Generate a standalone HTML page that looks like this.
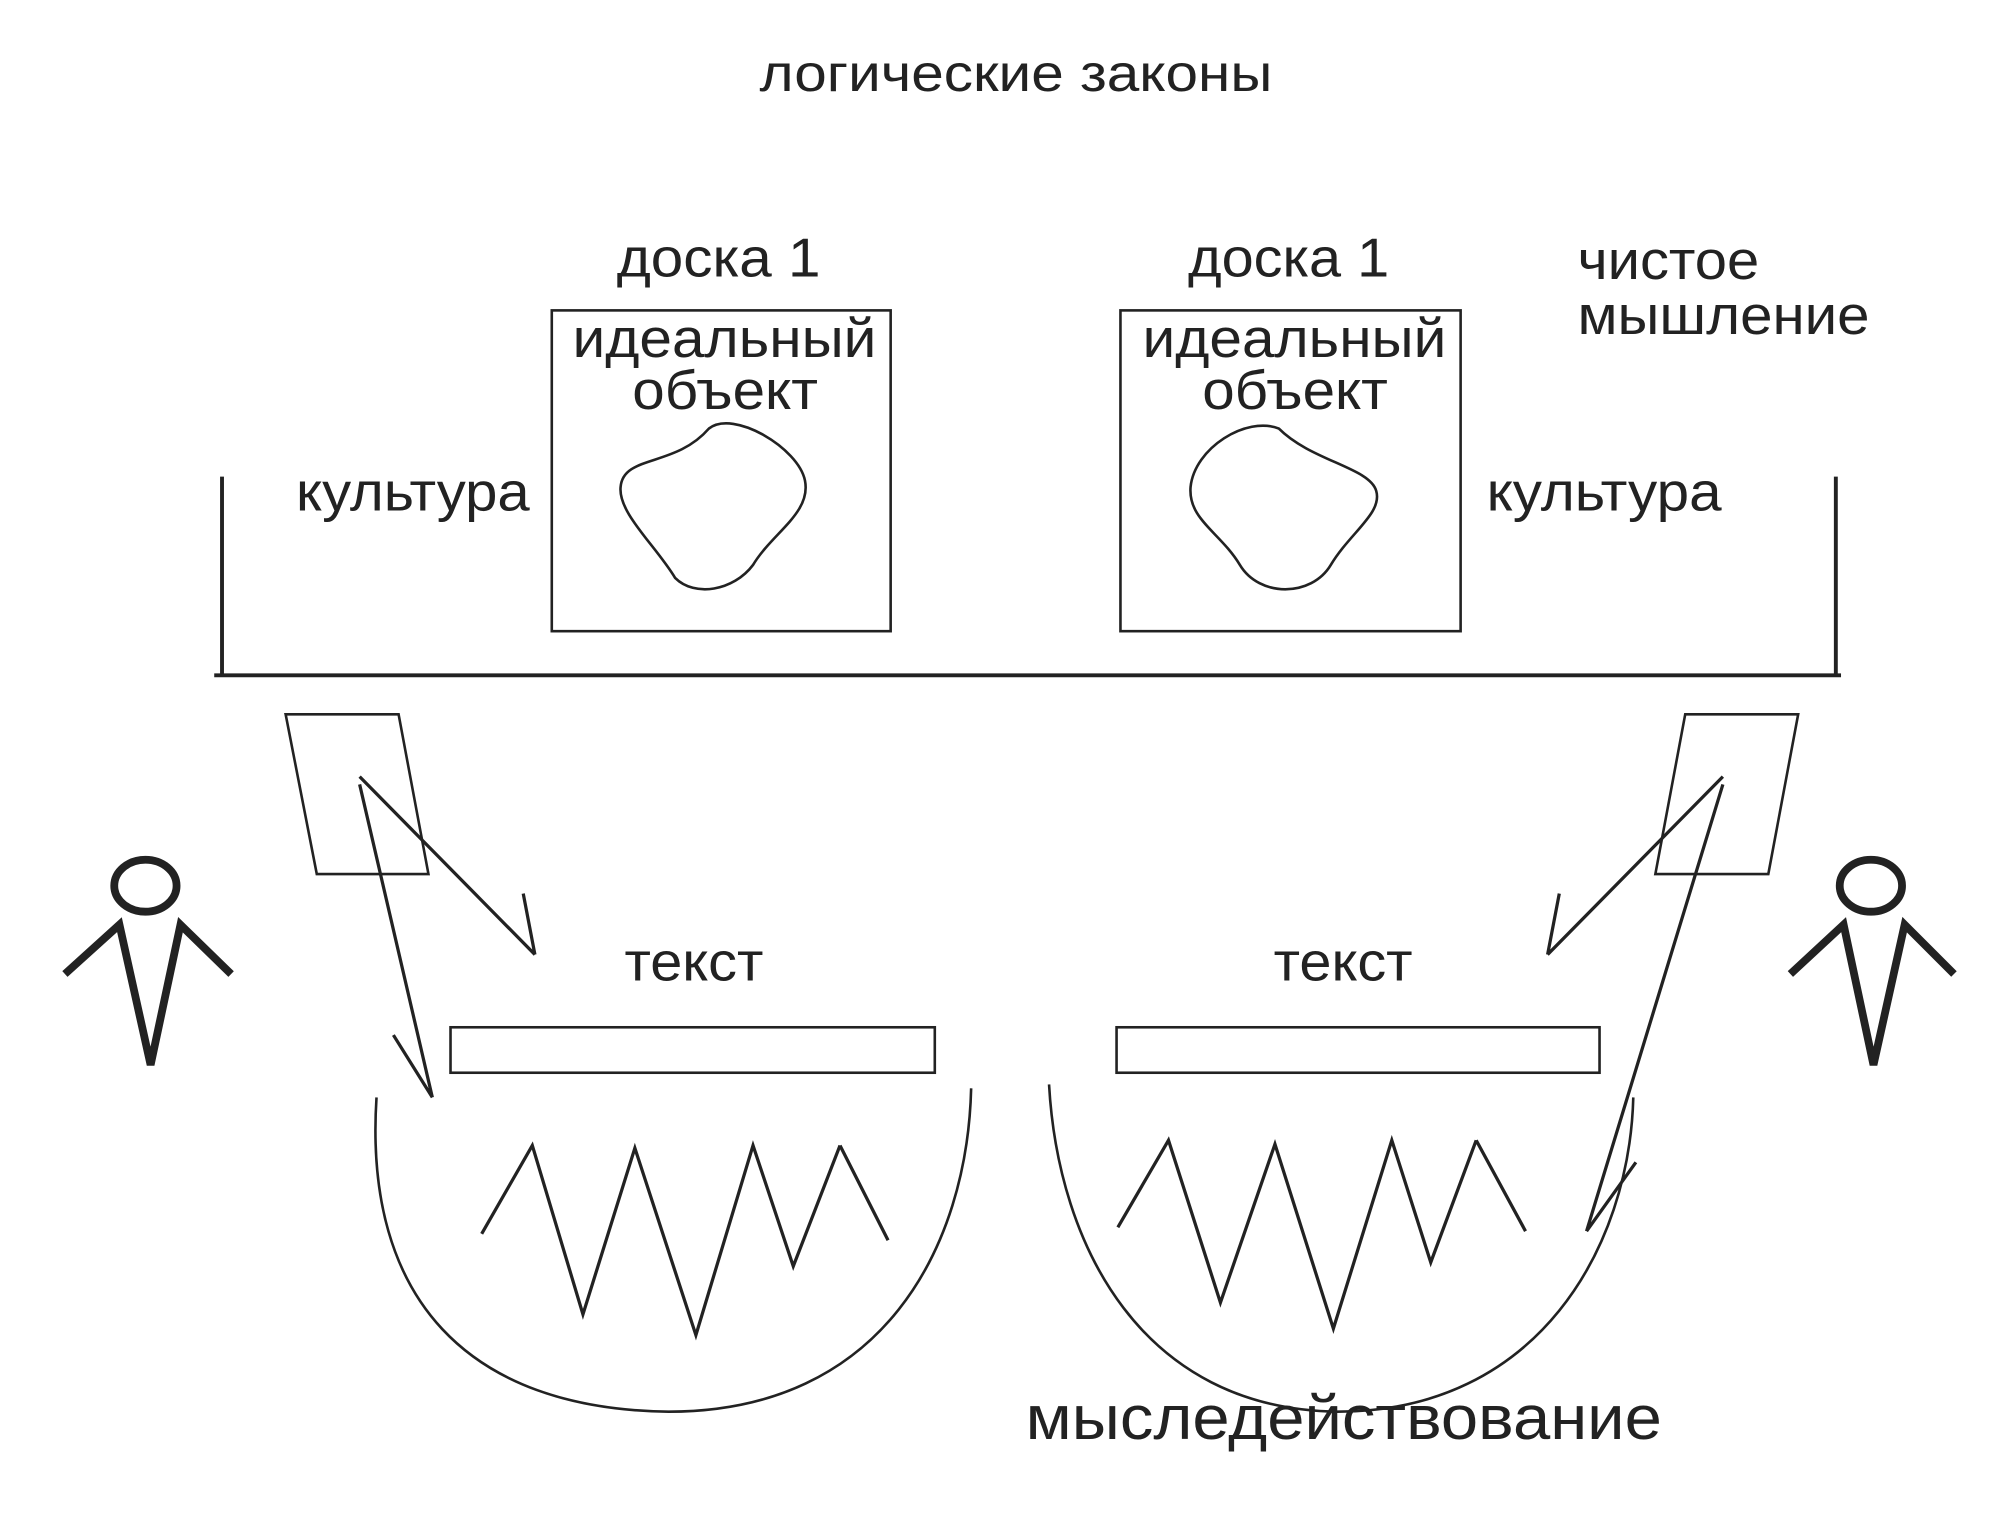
<!DOCTYPE html>
<html><head><meta charset="utf-8"><style>
html,body{margin:0;padding:0;background:#fff;}
svg{display:block}
text{font-family:"Liberation Sans",sans-serif;fill:#222;}
</style></head><body>
<svg width="2015" height="1513" viewBox="0 0 1552 1165" preserveAspectRatio="none" xmlns="http://www.w3.org/2000/svg">
<g font-size="42" lengthAdjust="spacingAndGlyphs">
<text x="585" y="70" font-size="40" textLength="395" lengthAdjust="spacingAndGlyphs">логические законы</text>
<text x="475" y="213" textLength="157" lengthAdjust="spacingAndGlyphs">доска 1</text>
<text x="915" y="213" textLength="155" lengthAdjust="spacingAndGlyphs">доска 1</text>
<text x="1215" y="215" textLength="140" lengthAdjust="spacingAndGlyphs">чистое</text>
<text x="1215" y="257" textLength="225" lengthAdjust="spacingAndGlyphs">мышление</text>
<text x="441" y="275" textLength="234" lengthAdjust="spacingAndGlyphs">идеальный</text>
<text x="487" y="315" textLength="143" lengthAdjust="spacingAndGlyphs">объект</text>
<text x="880" y="275" textLength="234" lengthAdjust="spacingAndGlyphs">идеальный</text>
<text x="926" y="315" textLength="143" lengthAdjust="spacingAndGlyphs">объект</text>
<text x="228" y="393" textLength="180" lengthAdjust="spacingAndGlyphs">культура</text>
<text x="1145" y="393" textLength="181" lengthAdjust="spacingAndGlyphs">культура</text>
<text x="481" y="755" textLength="107" lengthAdjust="spacingAndGlyphs">текст</text>
<text x="981" y="755" textLength="107" lengthAdjust="spacingAndGlyphs">текст</text>
<text x="790" y="1108" font-size="48" textLength="490" lengthAdjust="spacingAndGlyphs">мыследействование</text>
</g>
<g fill="none" stroke="#222" stroke-width="2">
<rect x="425" y="239" width="261" height="247"/>
<rect x="863" y="239" width="262" height="247"/>
<path d="M546,330 C520,360 480,350 478,375 C476,395 505,420 520,445 C535,460 565,455 580,435 C595,410 625,395 620,370 C615,345 565,315 546,330Z"/>
<path d="M985,330 C1010,355 1055,360 1060,378 C1065,395 1040,410 1025,435 C1010,460 970,460 955,435 C940,410 915,400 917,375 C920,345 960,320 985,330Z"/>
<path d="M171,367 V520 M165,520 H1418 M1414,367 V520" stroke-width="3"/>
<path d="M220,550 H307 L330,673 H244 Z"/>
<path d="M1298,550 H1385 L1362,673 H1275 Z"/>
<rect x="347" y="791" width="373" height="35"/>
<rect x="860" y="791" width="372" height="35"/>
<path d="M290,845 C280,1000 360,1085 515,1087 C680,1087 745,960 748,838"/>
<path d="M808,835 C815,960 880,1085 1030,1087 C1185,1087 1255,960 1258,845"/>
</g>
<g fill="none" stroke="#222" stroke-width="2.5">
<path d="M277,598 L412,735 M403,688 L412,735 M277,604 L333,845 M303,797 L333,845"/>
<path d="M1327,598 L1192,735 M1201,688 L1192,735 M1327,604 L1222,948 M1260,895 L1222,948"/>
<path d="M371,950 L410,882 L449,1012 L489,884 L536,1028 L580,882 L611,975 L647,882 M647,882 L684,955"/>
<path d="M861,945 L900,878 L940,1003 L982,881 L1027,1023 L1072,878 L1102,972 L1137,878 M1137,878 L1175,948"/>
</g>
<g fill="none" stroke="#222" stroke-width="6">
<ellipse cx="112" cy="682" rx="24" ry="20"/>
<path d="M50,750 L92,712 L116,820 L139,712 L178,750"/>
<ellipse cx="1441" cy="682" rx="24" ry="20"/>
<path d="M1379,750 L1420,712 L1443,820 L1467,712 L1505,750"/>
</g>
</svg>
</body></html>
